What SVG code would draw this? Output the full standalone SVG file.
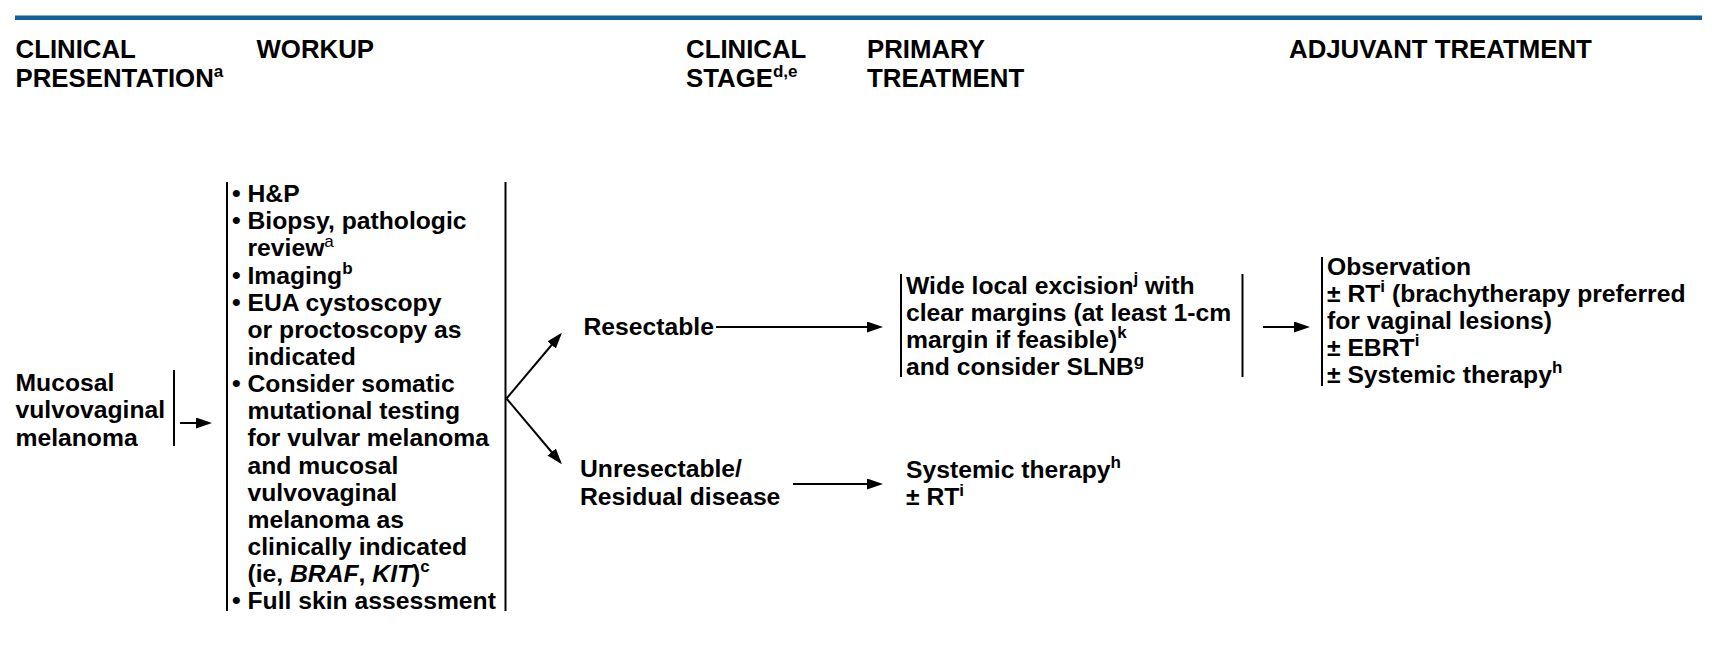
<svg xmlns="http://www.w3.org/2000/svg" width="1726" height="670" viewBox="0 0 1726 670">
<style>
text{font-family:"Liberation Sans",Arial,sans-serif;font-weight:bold;fill:#000}
.h{font-size:25.8px}
.b{font-size:24.7px}
.sup{font-size:17px}
.n{font-weight:normal}
.it{font-style:italic}
.ln{stroke:#000;stroke-width:2;fill:none}
.ar{stroke:#000;stroke-width:2;fill:none;marker-end:url(#ah)}
</style>
<defs>
<marker id="ah" markerUnits="userSpaceOnUse" markerWidth="17" markerHeight="12" refX="13" refY="5.5" orient="auto">
<path d="M0,0 L16,5.5 L0,11 z" fill="#000"/>
</marker>
</defs>
<rect x="15" y="15.5" width="1687" height="4.5" fill="#135f9a"/>
<g id="headers">
<text class="h"><tspan x="15.5" y="58">CLINICAL</tspan><tspan x="15.5" y="86.5">PRESENTATION</tspan><tspan class="sup" dy="-10">a</tspan></text>
<text class="h" x="256.5" y="58">WORKUP</text>
<text class="h"><tspan x="686" y="58">CLINICAL</tspan><tspan x="686" y="86.5">STAGE</tspan><tspan class="sup" dy="-10">d,e</tspan></text>
<text class="h"><tspan x="867" y="58">PRIMARY</tspan><tspan x="867" y="86.5">TREATMENT</tspan></text>
<text class="h" x="1289" y="58">ADJUVANT TREATMENT</text>
</g>
<g id="n-presentation">
<text class="b"><tspan x="15.5" y="390.5">Mucosal</tspan><tspan x="15.5" y="418">vulvovaginal</tspan><tspan x="15.5" y="445.5">melanoma</tspan></text>
<line class="ln" x1="174" y1="370" x2="174" y2="446"/>
</g>
<g id="n-workup">
<line class="ln" x1="227" y1="182" x2="227" y2="611"/>
<line class="ln" x1="505.5" y1="182" x2="505.5" y2="611"/>
<text class="b">
<tspan x="232" y="202">• H&amp;P</tspan>
<tspan x="232" y="229.2">• Biopsy, pathologic</tspan>
<tspan x="247.5" y="256.3">review</tspan><tspan class="sup n" dy="-9">a</tspan>
<tspan x="232" y="283.5">• Imaging</tspan><tspan class="sup" dy="-10">b</tspan>
<tspan x="232" y="310.6">• EUA cystoscopy</tspan>
<tspan x="247.5" y="337.8">or proctoscopy as</tspan>
<tspan x="247.5" y="364.9">indicated</tspan>
<tspan x="232" y="392">• Consider somatic</tspan>
<tspan x="247.5" y="419.2">mutational testing</tspan>
<tspan x="247.5" y="446.4">for vulvar melanoma</tspan>
<tspan x="247.5" y="473.5">and mucosal</tspan>
<tspan x="247.5" y="500.7">vulvovaginal</tspan>
<tspan x="247.5" y="527.8">melanoma as</tspan>
<tspan x="247.5" y="555">clinically indicated</tspan>
<tspan x="247.5" y="582.1">(ie, </tspan><tspan class="it">BRAF</tspan><tspan>, </tspan><tspan class="it">KIT</tspan><tspan>)</tspan><tspan class="sup" dy="-10">c</tspan>
<tspan x="232" y="609.3">• Full skin assessment</tspan>
</text>
</g>
<g id="n-resectable">
<text class="b" x="583.5" y="335">Resectable</text>
</g>
<g id="n-unresectable">
<text class="b"><tspan x="580" y="477">Unresectable/</tspan><tspan x="580" y="505">Residual disease</tspan></text>
</g>
<g id="n-wle">
<line class="ln" x1="901" y1="274" x2="901" y2="377"/>
<line class="ln" x1="1242.5" y1="274" x2="1242.5" y2="377"/>
<text class="b">
<tspan x="906" y="294">Wide local excision</tspan><tspan class="sup" dy="-10">j</tspan><tspan dy="10"> with</tspan>
<tspan x="906" y="321">clear margins (at least 1-cm</tspan>
<tspan x="906" y="348">margin if feasible)</tspan><tspan class="sup" dy="-10">k</tspan>
<tspan x="906" y="375">and consider SLNB</tspan><tspan class="sup" dy="-9">g</tspan>
</text>
</g>
<g id="n-systemic">
<text class="b">
<tspan x="906" y="477.5">Systemic therapy</tspan><tspan class="sup" dy="-10">h</tspan>
<tspan x="906" y="504.5">± RT</tspan><tspan class="sup" dy="-9">i</tspan>
</text>
</g>
<g id="n-adjuvant">
<line class="ln" x1="1322" y1="257" x2="1322" y2="386"/>
<text class="b">
<tspan x="1327" y="275">Observation</tspan>
<tspan x="1327" y="302">± RT</tspan><tspan class="sup" dy="-10">i</tspan><tspan dy="10"> (brachytherapy preferred</tspan>
<tspan x="1327" y="329">for vaginal lesions)</tspan>
<tspan x="1327" y="356">± EBRT</tspan><tspan class="sup" dy="-10">i</tspan>
<tspan x="1327" y="383">± Systemic therapy</tspan><tspan class="sup" dy="-10">h</tspan>
</text>
</g>
<g id="connectors">
<line class="ar" x1="180" y1="423" x2="209" y2="423"/>
<line class="ar" x1="506.5" y1="398.5" x2="560" y2="335"/>
<line class="ar" x1="506.5" y1="398.5" x2="560" y2="462"/>
<line class="ar" x1="716" y1="327" x2="880" y2="327"/>
<line class="ar" x1="793" y1="484" x2="880" y2="484"/>
<line class="ar" x1="1263" y1="327" x2="1307" y2="327"/>
</g>
</svg>
